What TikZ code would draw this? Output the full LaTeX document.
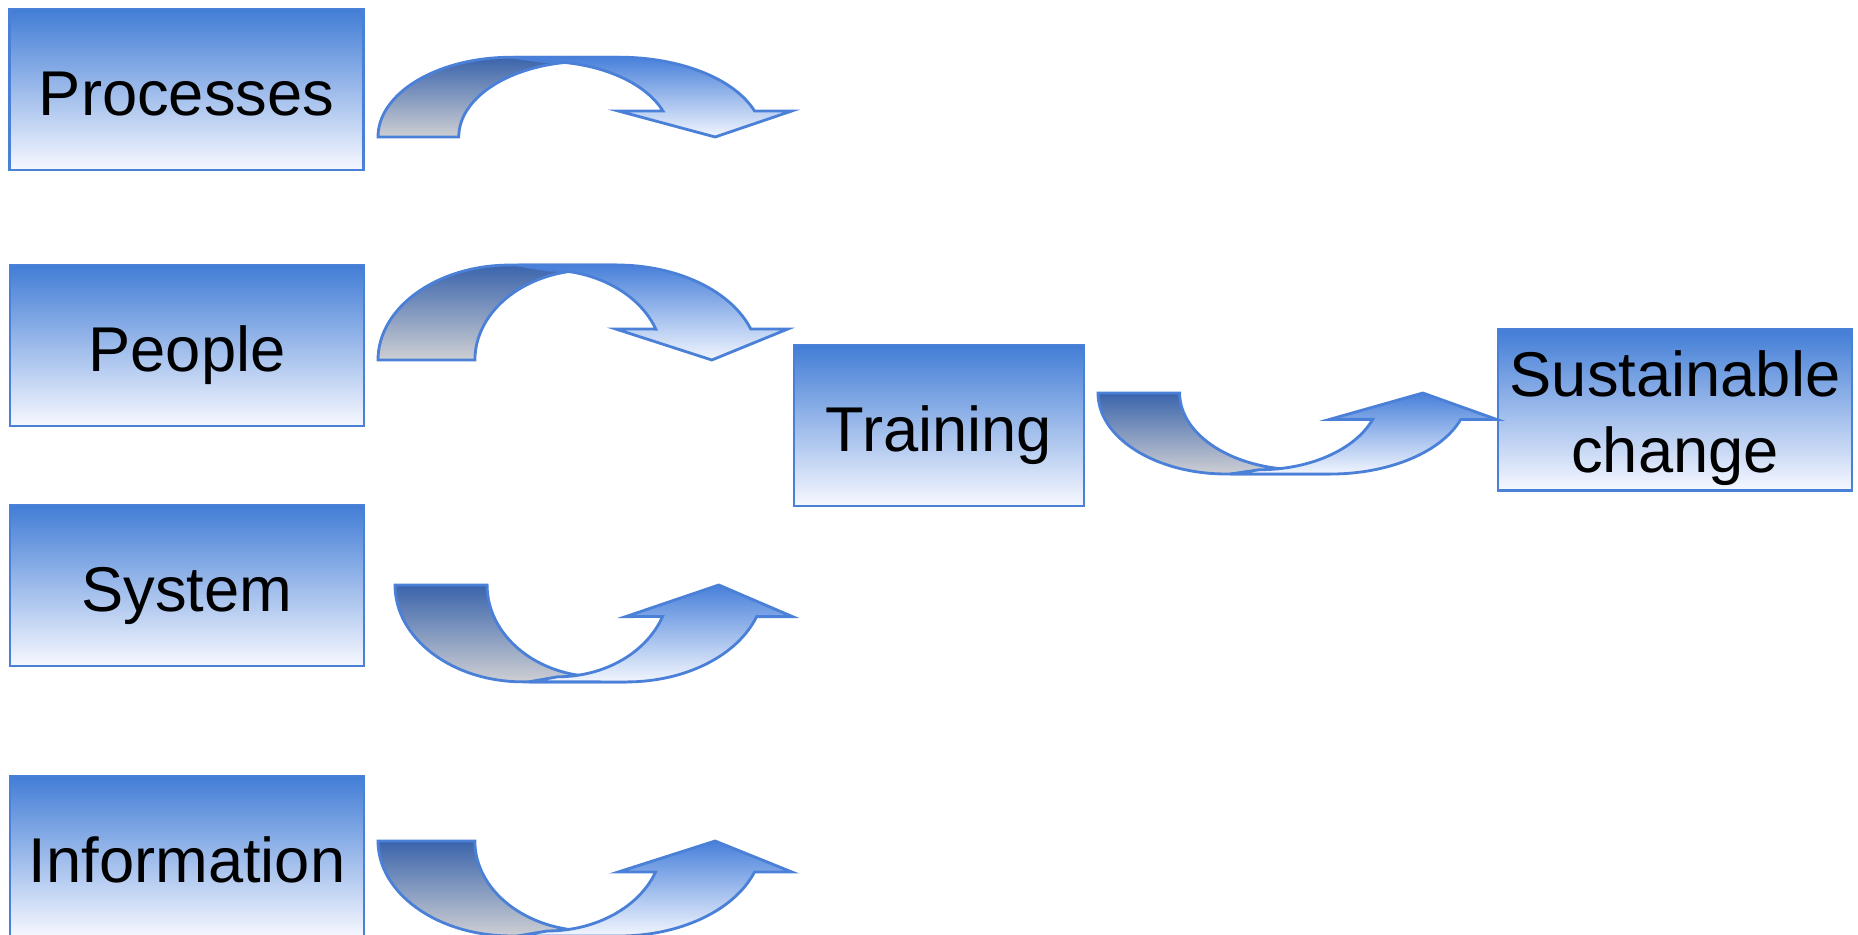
\documentclass[tikz,border=0pt]{standalone}
\usepackage{fontspec}
\setmainfont{Liberation Sans}
\usetikzlibrary{positioning}
\definecolor{boxblue}{RGB}{66,125,214}
\definecolor{boxwhite}{RGB}{246,248,255}
\definecolor{edgeblue}{RGB}{74,128,216}
\definecolor{tailblue}{RGB}{58,100,172}
\definecolor{tailgrey}{RGB}{206,207,211}
\definecolor{headblue}{RGB}{72,128,218}
\definecolor{headwhite}{RGB}{242,246,254}
\tikzstyle{block} = [draw=edgeblue, line width=0.7pt, rectangle, align=center, minimum height=1.61cm, minimum width=3.54cm, inner sep=0pt, top color=boxblue, bottom color=boxwhite, text=black, text height=18pt, text depth=3.4pt, font=\fontsize{18}{21.8}\selectfont]
\tikzstyle{tail} = [draw=edgeblue, line width=0.8pt, top color=tailblue, bottom color=tailgrey]
\tikzstyle{head} = [draw=edgeblue, line width=0.8pt, top color=headblue, bottom color=headwhite]

% curved block arrow: #1 = placement and scaling, #2 = width of the foot, #3 = inner radius
\newcommand{\bentarrow}[3]{
  \begin{scope}[#1]
    \path[tail] (0,0) arc[start angle=180, end angle=90, x radius=132, y radius=95] -- (239,95) -- ({#2+#3},90)
        arc[start angle=90, end angle=180, x radius=#3, y radius=90] -- cycle;
    \path[head] ({#2+#3-42},90) arc[start angle=90, end angle=20.1, x radius=#3, y radius=90] -- (238,31) -- (334,0)
        -- (410,31) -- (373,31) arc[start angle=19, end angle=90, x radius=142, y radius=95] -- ({#2+#3-72},95) -- cycle;
  \end{scope}
}

\begin{document}
\begin{tikzpicture}
    \useasboundingbox (0,0) rectangle (18.58,-9.35);

    \node [block] (pr) at (1.865,-0.895) {Processes};
    \node [block] (pe) at (1.87,-3.455) {People};
    \node [block] (sy) at (1.87,-5.855) {System};
    \node [block] (inf) at (1.87,-8.565) {Information};
    \node [block, minimum width=2.90cm] (tr) at (9.39,-4.255) {Training};
    \node [block, text height=39.6pt, text depth=3.8pt] (sc) at (16.75,-4.10) {Sustainable\\change};

    \bentarrow{shift={(3.78,-1.37)}, x=0.01cm, y=0.01cm, xscale=1.01, yscale=0.84}{80}{126}
    \bentarrow{shift={(3.78,-3.60)}, x=0.01cm, y=0.01cm}{97}{115}
    \bentarrow{shift={(3.95,-5.85)}, x=0.01cm, y=0.01cm, xscale=0.97, yscale=-1.02}{95}{115}
    \bentarrow{shift={(3.78,-8.41)}, x=0.01cm, y=0.01cm, xscale=1.01, yscale=-1}{96}{114}
    \bentarrow{shift={(10.98,-3.93)}, x=0.01cm, y=0.01cm, xscale=0.973, yscale=-0.853}{84}{124}
\end{tikzpicture}
\end{document}
